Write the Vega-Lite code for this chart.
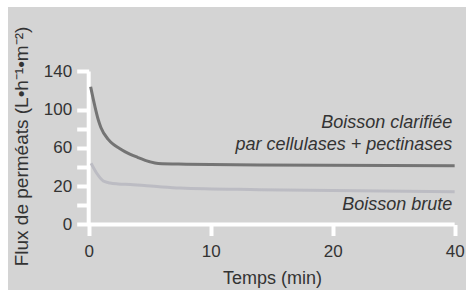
{
  "$schema": "https://vega.github.io/schema/vega-lite/v6.json",
  "width": 458,
  "height": 283,
  "autosize": "none",
  "padding": {"left": 8, "top": 7, "right": 0, "bottom": 0},
  "background": "white",
  "config": {
    "view": {"stroke": null, "fill": "#d4d4d4"},
    "font": "Liberation Sans",
    "axis": {
      "grid": false,
      "domain": false,
      "tickColor": "white",
      "tickWidth": 4,
      "labelFlush": false,
      "labelOverlap": false,
      "labelFont": "Liberation Sans",
      "labelFontSize": 17,
      "labelColor": "#333333",
      "titleFont": "Liberation Sans",
      "titleFontSize": 18,
      "titleFontWeight": "normal",
      "titleColor": "#333333"
    }
  },
  "datasets": {
    "curves": [
      {"t": 0.16, "flux": 124.1, "serie": "clarifiee"},
      {"t": 0.5, "flux": 104, "serie": "clarifiee"},
      {"t": 0.79, "flux": 89.3, "serie": "clarifiee"},
      {"t": 1.0, "flux": 81.5, "serie": "clarifiee"},
      {"t": 1.6, "flux": 69.0, "serie": "clarifiee"},
      {"t": 2.0, "flux": 64.0, "serie": "clarifiee"},
      {"t": 2.5, "flux": 59.8, "serie": "clarifiee"},
      {"t": 3.0, "flux": 56.0, "serie": "clarifiee"},
      {"t": 4.0, "flux": 50.3, "serie": "clarifiee"},
      {"t": 5.0, "flux": 45.6, "serie": "clarifiee"},
      {"t": 5.7, "flux": 43.8, "serie": "clarifiee"},
      {"t": 8, "flux": 43.1, "serie": "clarifiee"},
      {"t": 14, "flux": 42.2, "serie": "clarifiee"},
      {"t": 30, "flux": 41.5, "serie": "clarifiee"},
      {"t": 0.2, "flux": 44.0, "serie": "brute"},
      {"t": 0.66, "flux": 33.6, "serie": "brute"},
      {"t": 1.2, "flux": 25.5, "serie": "brute"},
      {"t": 1.75, "flux": 23.4, "serie": "brute"},
      {"t": 2.4, "flux": 22.4, "serie": "brute"},
      {"t": 3.4, "flux": 21.8, "serie": "brute"},
      {"t": 5.8, "flux": 19.5, "serie": "brute"},
      {"t": 7.5, "flux": 18.2, "serie": "brute"},
      {"t": 14, "flux": 16.4, "serie": "brute"},
      {"t": 30, "flux": 14.3, "serie": "brute"}
    ],
    "labels": [
      {"t": 29.8, "flux": 80.6, "texte": "Boisson clarifiée"},
      {"t": 29.8, "flux": 57.9, "texte": "par cellulases + pectinases"},
      {"t": 29.8, "flux": -4.8, "texte": "Boisson brute"}
    ]
  },
  "layer": [
    {
      "data": {"values": [{}]},
      "mark": {"type": "rule", "color": "white", "strokeWidth": 4},
      "encoding": {
        "x": {"datum": 0, "type": "quantitative"},
        "y": {"datum": -20, "type": "quantitative"},
        "y2": {"datum": 140}
      }
    },
    {
      "data": {"values": [{}]},
      "mark": {"type": "rule", "color": "white", "strokeWidth": 4},
      "encoding": {
        "x": {"datum": 0, "type": "quantitative"},
        "x2": {"datum": 30},
        "y": {"datum": -20, "type": "quantitative"}
      }
    },
    {
      "data": {"name": "curves"},
      "mark": {"type": "line", "strokeWidth": 3, "interpolate": "monotone"},
      "encoding": {
        "x": {
          "field": "t",
          "type": "quantitative",
          "scale": {"domain": [-6.615, 30.93], "nice": false, "zero": false},
          "axis": {
            "values": [0, 10, 20, 30],
            "tickCount": 20,
            "offset": -65.5,
            "labelExpr": "datum.value == 30 ? '40' : datum.label",
            "tickSize": 11,
            "labelPadding": 8,
            "title": "Temps (min)",
            "titleX": 264,
            "titlePadding": 10
          }
        },
        "y": {
          "field": "flux",
          "type": "quantitative",
          "scale": {"domain": [-88.5, 207.45], "nice": false, "zero": false},
          "axis": {
            "values": [-20, 0, 20, 40, 60, 80, 100, 140],
            "tickCount": 20,
            "offset": -80.7,
            "labelExpr": "datum.value == -20 ? '0' : (datum.value == 0 || datum.value == 40 || datum.value == 80) ? '' : datum.label",
            "tickSize": 12,
            "labelPadding": 5,
            "title": "Flux de perméats (L•h⁻¹•m⁻²)",
            "titleFontSize": 19,
            "titleY": 139,
            "titlePadding": 12
          }
        },
        "color": {
          "field": "serie",
          "type": "nominal",
          "scale": {"domain": ["clarifiee", "brute"], "range": ["#747474", "#bcbcc3"]},
          "legend": null
        }
      }
    },
    {
      "data": {"name": "labels"},
      "mark": {
        "type": "text",
        "align": "right",
        "baseline": "alphabetic",
        "fontStyle": "italic",
        "fontSize": 18,
        "font": "Liberation Sans",
        "color": "#333333"
      },
      "encoding": {
        "x": {"field": "t", "type": "quantitative"},
        "y": {"field": "flux", "type": "quantitative"},
        "text": {"field": "texte"}
      }
    }
  ]
}
